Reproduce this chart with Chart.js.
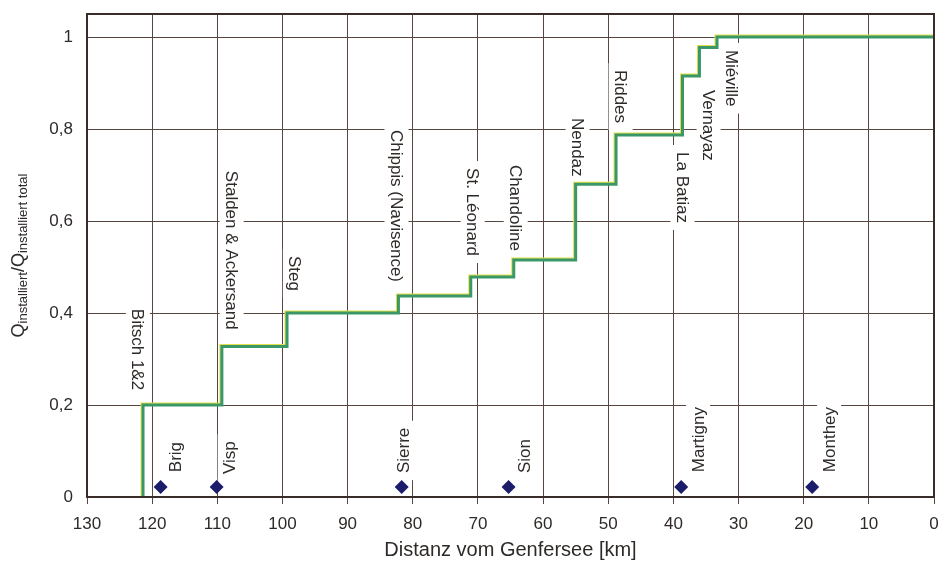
<!DOCTYPE html>
<html>
<head>
<meta charset="utf-8">
<script src="https://cdn.jsdelivr.net/npm/chart.js@4/dist/chart.umd.min.js"></script>
<style>
  html, body { margin: 0; padding: 0; background: #fff; }
  #wrap { width: 948px; height: 563px; }
</style>
</head>
<body>
<div id="wrap"><canvas id="stepChart"></canvas></div>
<script>
// Cumulative installed capacity along the Rhone, from upstream (left) to Lake Geneva (right)
const stepKm    = [121.4, 121.4, 109.3, 99.3, 82.2, 71.1, 64.5, 55.0, 48.8, 38.6, 36.0, 33.3, 0];
const stepShare = [0,     0.2,   0.327, 0.4,  0.437, 0.478, 0.515, 0.68, 0.787, 0.915, 0.977, 1.0, 1.0];

// Power stations, label anchors (km, share at top of the text)
const stationNames   = ["Bitsch 1&2", "Stalden & Ackersand", "Steg", "Chippis (Navisence)", "St. Léonard",
                        "Chandoline", "Nendaz", "Riddes", "La Batiaz", "Vernayaz", "Miéville"];
const stationLabelKm = [122.2, 107.8, 98.1, 82.5, 70.8, 64.2, 54.7, 48.1, 38.6, 34.6, 31.0];
const stationLabelY  = [0.409, 0.709, 0.524, 0.798, 0.715, 0.722, 0.824, 0.928, 0.75, 0.885, 0.972];

// Towns along the valley
const townNames   = ["Brig", "Visp", "Sierre", "Sion", "Martigny", "Monthey"];
const townKm      = [118.7, 110.1, 81.7, 65.3, 38.8, 18.7];
const townMarkY   = [0.022, 0.022, 0.022, 0.022, 0.022, 0.022];
const townLabelKm = [116.5, 108.1, 81.4, 62.9, 36.2, 16.1];
const townLabelY  = [0.054, 0.05, 0.052, 0.052, 0.054, 0.054];

const yTicks      = [0, 0.2, 0.4, 0.6, 0.8, 1];
const yTickLabels = ["0", "0,2", "0,4", "0,6", "0,8", "1"];

const FONT = '"Liberation Sans", Arial, Helvetica, sans-serif';
const INK = '#2e2a28';
const GRID = '#56463f';

// white-backed rotated labels for stations and towns, drawn under the curve
const labelPlugin = {
    id: 'labels',
    beforeDatasetsDraw(chart) {
        const ctx = chart.ctx;
        const xs = chart.scales.x, ys = chart.scales.y;
        ctx.save();
        ctx.font = '17px ' + FONT;
        ctx.textBaseline = 'middle';
        ctx.textAlign = 'left';
        const put = (text, km, val, angle) => {
            const w = ctx.measureText(text).width;
            ctx.save();
            ctx.translate(xs.getPixelForValue(km), ys.getPixelForValue(val));
            ctx.rotate(angle);
            ctx.fillStyle = '#fff';
            ctx.fillRect(-7, -12, w + 14, 24);
            ctx.fillStyle = INK;
            ctx.fillText(text, 0, 1);
            ctx.restore();
        };
        stationNames.forEach((n, i) => put(n, stationLabelKm[i], stationLabelY[i], Math.PI / 2));
        townNames.forEach((n, i) => put(n, townLabelKm[i], townLabelY[i], -Math.PI / 2));
        ctx.restore();
    }
};

// frame around the plot and the y-axis title with subscripts
const framePlugin = {
    id: 'frame',
    afterDraw(chart) {
        const ctx = chart.ctx;
        const a = chart.chartArea;
        ctx.save();
        ctx.strokeStyle = '#3a2d29';
        ctx.lineWidth = 2;
        ctx.strokeRect(a.left, a.top, a.right - a.left, a.bottom - a.top);

        const parts = [
            ['Q', 18, 0], ['installiert', 13, 4], ['/Q', 18, 0], ['installiert total', 13, 4]
        ];
        let total = 0;
        parts.forEach(p => { ctx.font = p[1] + 'px ' + FONT; total += ctx.measureText(p[0]).width; });
        ctx.translate(19, (a.top + a.bottom) / 2);
        ctx.rotate(-Math.PI / 2);
        ctx.fillStyle = INK;
        ctx.textBaseline = 'middle';
        let x = -total / 2;
        parts.forEach(p => {
            ctx.font = p[1] + 'px ' + FONT;
            ctx.fillText(p[0], x, p[2]);
            x += ctx.measureText(p[0]).width;
        });
        ctx.restore();
    }
};

// yellow fringe on the step curve
const fringePlugin = {
    id: 'fringe',
    beforeDatasetDraw(chart, args) {
        if (args.index !== 0) return;
        const ctx = chart.ctx;
        ctx.save();
        ctx.shadowColor = '#e3df4a';
        ctx.shadowOffsetX = -1;
        ctx.shadowOffsetY = -1;
        ctx.shadowBlur = 0;
    },
    afterDatasetDraw(chart, args) {
        if (args.index !== 0) return;
        chart.ctx.restore();
    }
};

const ctx = document.getElementById('stepChart').getContext('2d');
new Chart(ctx, {
    type: 'line',
    data: {
        datasets: [
            {
                data: stepKm.map((k, i) => ({ x: k, y: stepShare[i] })),
                stepped: 'before',
                borderColor: '#3a9868',
                borderWidth: 3,
                pointRadius: 0,
                fill: false
            },
            {
                type: 'scatter',
                data: townKm.map((k, i) => ({ x: k, y: townMarkY[i] })),
                pointStyle: 'rectRot',
                pointRadius: 7,
                backgroundColor: '#1b1c6a',
                borderColor: '#1b1c6a',
                borderWidth: 0
            }
        ]
    },
    options: {
        responsive: true,
        maintainAspectRatio: false,
        animation: false,
        layout: { padding: { top: 14, right: 14, left: 0, bottom: 0 } },
        plugins: {
            legend: { display: false },
            tooltip: { enabled: false }
        },
        scales: {
            x: {
                type: 'linear',
                min: 0,
                max: 130,
                reverse: true,
                afterFit: s => { s.height = 66; s.paddingLeft = 0; s.paddingRight = 0; },
                ticks: { stepSize: 10, color: INK, padding: 10, font: { size: 17, family: FONT } },
                grid: { color: GRID, lineWidth: 1, drawTicks: true, tickLength: 7, tickColor: GRID },
                border: { display: true, color: '#3a2d29', width: 2 },
                title: {
                    display: true,
                    text: 'Distanz vom Genfersee [km]',
                    color: INK,
                    font: { size: 20, family: FONT },
                    padding: { top: 2, bottom: 1 }
                }
            },
            y: {
                min: 0,
                max: 1.05,
                afterFit: s => { s.width = 87; s.paddingTop = 0; s.paddingBottom = 0; },
                afterBuildTicks: s => { s.ticks = yTicks.map(v => ({ value: v })); },
                ticks: {
                    color: INK,
                    padding: 14,
                    font: { size: 17, family: FONT },
                    callback: (v, i) => yTickLabels[i]
                },
                grid: { color: GRID, lineWidth: 1, drawTicks: false },
                border: { display: true, color: '#3a2d29', width: 2 }
            }
        }
    },
    plugins: [labelPlugin, framePlugin, fringePlugin]
});
</script>
</body>
</html>
